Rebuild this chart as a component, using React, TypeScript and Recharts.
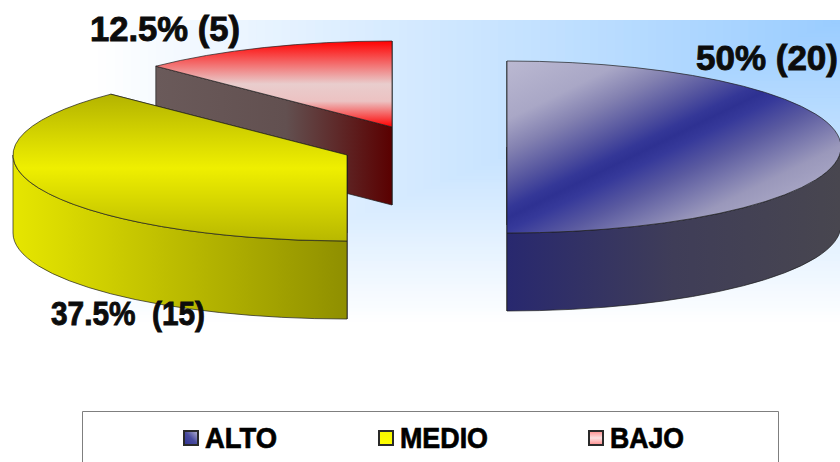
import React from "react";
import { PieChart, Pie, Legend } from "recharts";

const categories = ["ALTO", "MEDIO", "BAJO"];
const counts = [20, 15, 5];
const valueLabels = ["50% (20)", "37.5%  (15)", "12.5% (5)"];

const WIDTH = 840;
const HEIGHT = 462;
const FONT = "'Liberation Sans', Arial, sans-serif";

// 3D look of the disc
const RADIUS = 334;
const SQUASH = 86 / 334;
const DEPTH = 78;
const CX = 440;
const CY = 147;

// how far each slice is pulled out of the disc
const explode: Record<string, [number, number]> = {
  ALTO: [67, 0],
  MEDIO: [-93, 8],
  BAJO: [-48, -20],
};

// label box for each slice: left, baseline, width, font size
const labelBoxes: Record<string, [number, number, number, number]> = {
  ALTO: [696, 70, 142, 35],
  MEDIO: [51, 325, 154, 33],
  BAJO: [90, 41, 150, 35],
};

// painted back to front so the yellow slice sits over the red wall
const pieData = categories
  .map((name, i) => ({ name, value: counts[i], label: valueLabels[i] }))
  .reverse();

const BG_STEPS = 90;
const BG_TOP = 20;
const BG_SPREAD_X = 750;
const BG_SPREAD_Y = 305;

function mix(t: number) {
  const c = (from: number) => Math.round(from + (255 - from) * t);
  return `rgb(${c(0x99)},${c(0xcc)},${c(0xff)})`;
}

// rectangular gradient spreading out of the top right corner
function Backdrop() {
  const rects = [];
  for (let i = BG_STEPS; i > 0; i--) {
    const t = i / BG_STEPS;
    rects.push(
      <rect
        key={i}
        x={WIDTH - BG_SPREAD_X * t}
        y={BG_TOP}
        width={BG_SPREAD_X * t}
        height={BG_SPREAD_Y * t}
        fill={mix(t)}
      />
    );
  }
  return <g>{rects}</g>;
}

function Gradients() {
  return (
    <defs>
      <linearGradient id="altoTop" gradientUnits="userSpaceOnUse" x1="505" y1="55" x2="635" y2="319">
        <stop offset="0" stopColor="#bdbbd3" />
        <stop offset="0.2" stopColor="#a9a7c6" />
        <stop offset="0.3" stopColor="#8280b0" />
        <stop offset="0.4" stopColor="#55559f" />
        <stop offset="0.47" stopColor="#343797" />
        <stop offset="0.5" stopColor="#2e3192" />
        <stop offset="0.54" stopColor="#36399a" />
        <stop offset="0.63" stopColor="#5a5aa0" />
        <stop offset="0.78" stopColor="#9a98bb" />
        <stop offset="1" stopColor="#bdbbd3" />
      </linearGradient>
      <linearGradient id="altoSide" gradientUnits="userSpaceOnUse" x1="507" y1="0" x2="840" y2="0">
        <stop offset="0" stopColor="#28286f" />
        <stop offset="0.5" stopColor="#3f3d58" />
        <stop offset="1" stopColor="#48464f" />
      </linearGradient>
      <linearGradient id="medioTop" gradientUnits="userSpaceOnUse" x1="0" y1="95" x2="0" y2="241">
        <stop offset="0" stopColor="#b4b400" />
        <stop offset="0.5" stopColor="#efef00" />
        <stop offset="1" stopColor="#b8b800" />
      </linearGradient>
      <linearGradient id="medioSide" gradientUnits="userSpaceOnUse" x1="13" y1="0" x2="347" y2="0">
        <stop offset="0" stopColor="#e6e600" />
        <stop offset="0.12" stopColor="#dcdc00" />
        <stop offset="1" stopColor="#8f8f00" />
      </linearGradient>
      <linearGradient id="bajoTop" gradientUnits="userSpaceOnUse" x1="0" y1="41" x2="0" y2="127">
        <stop offset="0" stopColor="#ff0000" />
        <stop offset="0.5" stopColor="#e9cdcd" />
        <stop offset="0.7" stopColor="#ecc2c2" />
        <stop offset="1" stopColor="#ff0000" />
      </linearGradient>
      <linearGradient id="bajoSide" gradientUnits="userSpaceOnUse" x1="157" y1="0" x2="392" y2="0">
        <stop offset="0" stopColor="#6a5a5a" />
        <stop offset="0.55" stopColor="#625050" />
        <stop offset="1" stopColor="#5a0000" />
      </linearGradient>
    </defs>
  );
}

// draws one slice as a squashed wedge with walls under it
function Slice3D(props: any) {
  const { cx, cy, outerRadius, startAngle, endAngle, payload } = props;
  const key = payload.name.toLowerCase();
  const [dx, dy] = explode[payload.name];
  const ox = cx + dx;
  const oy = cy + dy;
  const rx = outerRadius;
  const ry = outerRadius * SQUASH;
  const at = (deg: number) => {
    const a = (deg * Math.PI) / 180;
    return [ox + rx * Math.cos(a), oy - ry * Math.sin(a)];
  };

  const [sx, sy] = at(startAngle);
  const [ex, ey] = at(endAngle);
  const large = endAngle - startAngle > 180 ? 1 : 0;
  const top = `M${ox},${oy} L${sx},${sy} A${rx},${ry} 0 ${large} 0 ${ex},${ey} Z`;

  const wall = (deg: number) => {
    const [x, y] = at(deg);
    return `M${ox},${oy} L${x},${y} L${x},${y + DEPTH} L${ox},${oy + DEPTH} Z`;
  };

  // the rim only shows on the front half of the ellipse
  const from = Math.max(startAngle, 180);
  const to = Math.min(endAngle, 360);
  let rim = null;
  if (to > from) {
    const [ax, ay] = at(from);
    const [bx, by] = at(to);
    rim = `M${ax},${ay} A${rx},${ry} 0 0 0 ${bx},${by} L${bx},${by + DEPTH} A${rx},${ry} 0 0 1 ${ax},${ay + DEPTH} Z`;
  }

  const side = `url(#${key}Side)`;
  const edge = { stroke: "#1c1c1c", strokeWidth: 0.7, strokeLinejoin: "round" as const };
  return (
    <g>
      <path d={wall(startAngle)} fill={side} {...edge} />
      <path d={wall(endAngle)} fill={side} {...edge} />
      {rim && <path d={rim} fill={side} {...edge} />}
      <path d={top} fill={`url(#${key}Top)`} {...edge} />
    </g>
  );
}

function SliceLabel(props: any) {
  const [x, y, w, size] = labelBoxes[props.payload.name];
  return (
    <text
      x={x}
      y={y}
      textLength={w}
      lengthAdjust="spacingAndGlyphs"
      fontFamily={FONT}
      fontWeight="bold"
      fontSize={size}
      fill="#0c0c0c"
      stroke="#0c0c0c"
      strokeWidth={0.9}
      style={{ whiteSpace: "pre" }}
    >
      {props.payload.label}
    </text>
  );
}

const markerX = [101, 296, 506];
const textX = [123, 318, 528];
const textW = [72, 88, 74];

function LegendBox({ payload }: any) {
  const items = [...(payload || [])].sort(
    (a: any, b: any) => categories.indexOf(a.value) - categories.indexOf(b.value)
  );
  return (
    <svg width={697} height={52} style={{ display: "block" }}>
      <defs>
        <linearGradient id="markALTO" x1="0" y1="1" x2="1" y2="0">
          <stop offset="0" stopColor="#2e3192" />
          <stop offset="0.5" stopColor="#4a4c9f" />
          <stop offset="1" stopColor="#b9b7d1" />
        </linearGradient>
        <linearGradient id="markMEDIO" x1="0" y1="0" x2="0" y2="1">
          <stop offset="0" stopColor="#f6f600" />
          <stop offset="1" stopColor="#ffff00" />
        </linearGradient>
        <linearGradient id="markBAJO" x1="0" y1="0" x2="0" y2="1">
          <stop offset="0" stopColor="#ff8a8a" />
          <stop offset="0.5" stopColor="#fbe0e0" />
          <stop offset="1" stopColor="#ff8a8a" />
        </linearGradient>
      </defs>
      <path d="M0.5,52 V0.5 H696.5 V52" fill="#fff" stroke="#7f7f7f" />
      {items.map((item: any, i: number) => (
        <g key={item.value}>
          <rect x={markerX[i] + 1} y={20} width={14} height={14} fill={`url(#mark${item.value})`} stroke="#2a2a2a" strokeWidth={2} />
          <text
            x={textX[i]}
            y={36.5}
            textLength={textW[i]}
            lengthAdjust="spacingAndGlyphs"
            fontFamily={FONT}
            fontWeight="bold"
            fontSize={29}
            fill="#000"
            stroke="#000"
            strokeWidth={0.7}
          >
            {item.value}
          </text>
        </g>
      ))}
    </svg>
  );
}

export default function App() {
  return (
    <div style={{ position: "absolute", left: 0, top: 0, width: WIDTH, height: HEIGHT, overflow: "hidden", background: "#fff" }}>
      <PieChart width={WIDTH} height={HEIGHT} margin={{ top: 0, right: 0, bottom: 0, left: 0 }}>
        <Gradients />
        <Backdrop />
        <Pie
          data={pieData}
          dataKey="value"
          nameKey="name"
          cx={CX}
          cy={CY}
          innerRadius={0}
          outerRadius={RADIUS}
          startAngle={90}
          endAngle={450}
          stroke="none"
          shape={Slice3D}
          label={SliceLabel}
          labelLine={false}
          isAnimationActive={false}
        />
        <Legend
          content={LegendBox}
          wrapperStyle={{ left: 82, top: 411, bottom: "auto", width: 697, height: 52 }}
        />
      </PieChart>
    </div>
  );
}
